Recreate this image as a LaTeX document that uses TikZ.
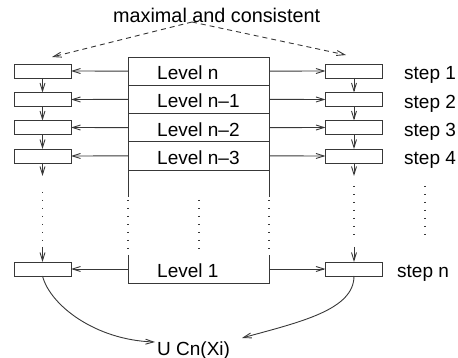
\documentclass[tikz,border=0pt]{standalone}
\usepackage{fontspec}
\setmainfont{Liberation Sans}
\usetikzlibrary{arrows.meta}
\definecolor{lc}{gray}{0.22}
\tikzset{
  lw/.style={line width=0.9pt, draw=lc},
  sbox/.style={lw, minimum width=57pt, minimum height=14pt, inner sep=0pt, outer sep=0pt},
  rowbox/.style={lw, minimum width=141pt, minimum height=28.25pt, inner sep=0pt, outer sep=0pt},
  hidbox/.style={minimum width=141pt, minimum height=28pt, inner sep=0pt, outer sep=0pt},
  lab/.style={inner sep=0pt, anchor=base west, font=\fontsize{19}{22}\selectfont},
  arr/.style={lw, -{Straight Barb[length=8pt,width=5pt,line width=0.9pt]}},
  darr/.style={arr, dash pattern=on 5pt off 4pt},
  dotline/.style={lw, line width=1.1pt, dash pattern=on 1pt off 7pt}
}
\begin{document}
\begin{tikzpicture}[x=1pt,y=-1pt]
\useasboundingbox (0,0) rectangle (458,358);
% main rows
\node[rowbox] (r1) at (198.5,71.125) {};
\node[rowbox] (r2) at (198.5,99.375) {};
\node[rowbox] (r3) at (198.5,127.625) {};
\node[rowbox] (r4) at (198.5,155.875) {};
\node[hidbox] (rb) at (198.5,269) {};
\node[lab] (t1) at (157,80) {Level n};
\node[lab] (t2) at (157,108) {Level n–1};
\node[lab] (t3) at (157,136.5) {Level n–2};
\node[lab] (t4) at (157,164.5) {Level n–3};
\node[lab] (tb) at (157,277) {Level 1};
% lower part of main box
\coordinate (lsw) at (128,197);
\coordinate (rsw) at (269,197);
\draw[lw] (r4.south west) -- (lsw);
\draw[lw] (r4.south east) -- (rsw);
\draw[dotline] (128,200) -- (128,250);
\draw[dotline] (269,200) -- (269,250);
\draw[dotline] (199,200) -- (199,250);
\draw[lw] (rb.north west) -- (rb.south west) -- (rb.south east) -- (rb.north east);
% small boxes
\node[sbox] (L1) at (42.5,71) {};
\node[sbox] (L2) at (42.5,99.5) {};
\node[sbox] (L3) at (42.5,127.5) {};
\node[sbox] (L4) at (42.5,156) {};
\node[sbox] (Ln) at (42.5,269) {};
\node[sbox] (R1) at (354,71) {};
\node[sbox] (R2) at (354,99.5) {};
\node[sbox] (R3) at (354,127.5) {};
\node[sbox] (R4) at (354,156) {};
\node[sbox] (Rn) at (354,269) {};
% step labels
\node[lab] (s1) at (404,80) {step 1};
\node[lab] (s2) at (404,108.5) {step 2};
\node[lab] (s3) at (404,136.5) {step 3};
\node[lab] (s4) at (404,165) {step 4};
\node[lab] (sn) at (397,277) {step n};
\draw[dotline] (425,186) -- (425,236);
% horizontal arrows
\draw[arr] (r1.west) -- (L1.east);
\draw[arr] (r2.west) -- (L2.east);
\draw[arr] (r3.west) -- (L3.east);
\draw[arr] (r4.west) -- (L4.east);
\draw[arr] (rb.west) -- (Ln.east);
\draw[arr] (r1.east) -- (R1.west);
\draw[arr] (r2.east) -- (R2.west);
\draw[arr] (r3.east) -- (R3.west);
\draw[arr] (r4.east) -- (R4.west);
\draw[arr] (rb.east) -- (Rn.west);
% vertical arrows
\draw[arr] (L1.south) -- (L2.north);
\draw[arr] (L2.south) -- (L3.north);
\draw[arr] (L3.south) -- (L4.north);
\coordinate (la) at (42.5,176);
\coordinate (lb) at (42.5,247);
\draw[arr] (L4.south) -- (la);
\draw[dotline] (42.5,192) -- (42.5,242);
\draw[arr] (lb) -- (Ln.north);
\draw[arr] (R1.south) -- (R2.north);
\draw[arr] (R2.south) -- (R3.north);
\draw[arr] (R3.south) -- (R4.north);
\coordinate (ra) at (354,176);
\coordinate (rbb) at (354,247);
\draw[arr] (R4.south) -- (ra);
\draw[dotline] (354,186) -- (354,236);
\draw[arr] (rbb) -- (Rn.north);
% top label and dashed arrows
\node[lab, font=\fontsize{19.8}{23}\selectfont] (mc) at (113,23) {maximal and consistent};
\coordinate (apex) at (192,22);
\coordinate (dl) at (52,57);
\coordinate (dr) at (346,55);
\draw[darr] (apex) -- (dl);
\draw[darr] (apex) -- (dr);
% bottom
\node[lab] (U) at (157,355) {U Cn(Xi)};
\coordinate (ul) at (155,342);
\coordinate (ur) at (242,338);
\draw[arr] (Ln.south) .. controls (50,305) and (95,340) .. (ul);
\draw[arr] (Rn.south) .. controls (354,310) and (300,322) .. (ur);
\end{tikzpicture}
\end{document}
